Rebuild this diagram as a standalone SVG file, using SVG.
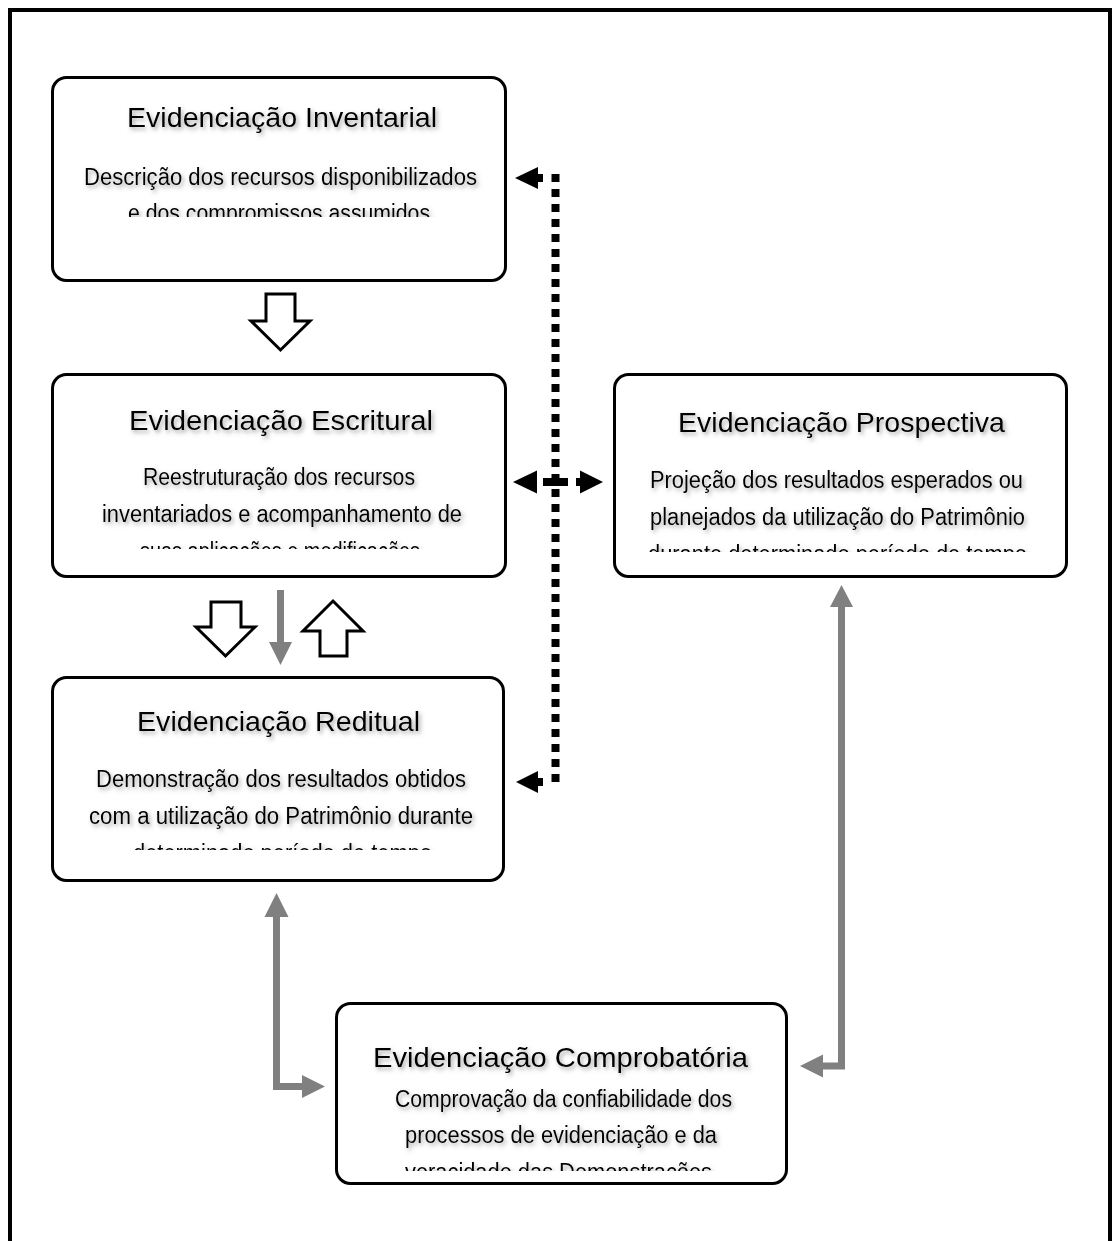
<svg xmlns="http://www.w3.org/2000/svg" width="1116" height="1241" viewBox="0 0 1116 1241">
<style>
.box{fill:#fff;stroke:#000;stroke-width:3}
.title{font-family:"Liberation Sans",Arial,sans-serif;font-size:28px;fill:#000;text-anchor:middle}
.body{font-family:"Liberation Sans",Arial,sans-serif;font-size:23.5px;fill:#000;text-anchor:middle}
.blk{fill:#fff;stroke:#000;stroke-width:3;stroke-linejoin:miter}
.gray{fill:none;stroke:#808080;stroke-width:7}
.grayh{fill:#808080}
.dot{fill:none;stroke:#000;stroke-width:8}
</style>
<defs>
<filter id="sh" x="-10%" y="-30%" width="120%" height="160%">
<feDropShadow dx="2" dy="2.5" stdDeviation="2" flood-color="#666" flood-opacity="0.6"/>
</filter>
<clipPath id="c1"><rect x="52" y="78" width="452" height="139"/></clipPath>
<clipPath id="c2"><rect x="52" y="375" width="452" height="174"/></clipPath>
<clipPath id="c3"><rect x="614" y="375" width="452" height="177"/></clipPath>
<clipPath id="c4"><rect x="52" y="678" width="452" height="172"/></clipPath>
<clipPath id="c5"><rect x="336" y="1004" width="450" height="167"/></clipPath>
</defs>
<rect width="1116" height="1241" fill="#fff"/>
<path d="M10 1241V10H1110V1241" fill="none" stroke="#000" stroke-width="4"/>

<g id="inventarial">
<rect class="box" x="52.5" y="77.5" width="453" height="203" rx="14"/>
<g clip-path="url(#c1)">
<text class="title" x="282" y="127" filter="url(#sh)" textLength="310" lengthAdjust="spacingAndGlyphs">Evidenciação Inventarial</text>
<text class="body" x="280.5" y="185" filter="url(#sh)" textLength="393" lengthAdjust="spacingAndGlyphs">Descrição dos recursos disponibilizados</text>
<text class="body" x="279" y="221" filter="url(#sh)" textLength="302" lengthAdjust="spacingAndGlyphs">e dos compromissos assumidos</text>
</g>
</g>

<g id="escritural">
<rect class="box" x="52.5" y="374.5" width="453" height="202" rx="14"/>
<g clip-path="url(#c2)">
<text class="title" x="281" y="430" filter="url(#sh)" textLength="304" lengthAdjust="spacingAndGlyphs">Evidenciação Escritural</text>
<text class="body" x="279" y="485" filter="url(#sh)" textLength="272" lengthAdjust="spacingAndGlyphs">Reestruturação dos recursos</text>
<text class="body" x="282" y="522" filter="url(#sh)" textLength="360" lengthAdjust="spacingAndGlyphs">inventariados e acompanhamento de</text>
<text class="body" x="280" y="559" filter="url(#sh)" textLength="280" lengthAdjust="spacingAndGlyphs">suas aplicações e modificações</text>
</g>
</g>

<g id="prospectiva">
<rect class="box" x="614.5" y="374.5" width="452" height="202" rx="14"/>
<g clip-path="url(#c3)">
<text class="title" x="841.5" y="432" filter="url(#sh)" textLength="327" lengthAdjust="spacingAndGlyphs">Evidenciação Prospectiva</text>
<text class="body" x="836.5" y="488" filter="url(#sh)" textLength="373" lengthAdjust="spacingAndGlyphs">Projeção dos resultados esperados ou</text>
<text class="body" x="837.5" y="525" filter="url(#sh)" textLength="375" lengthAdjust="spacingAndGlyphs">planejados da utilização do Patrimônio</text>
<text class="body" x="837.5" y="562" filter="url(#sh)" textLength="379" lengthAdjust="spacingAndGlyphs">durante determinado período de tempo</text>
</g>
</g>

<g id="reditual">
<rect class="box" x="52.5" y="677.5" width="451" height="203" rx="14"/>
<g clip-path="url(#c4)">
<text class="title" x="278.5" y="731" filter="url(#sh)" textLength="283" lengthAdjust="spacingAndGlyphs">Evidenciação Reditual</text>
<text class="body" x="281" y="787" filter="url(#sh)" textLength="370" lengthAdjust="spacingAndGlyphs">Demonstração dos resultados obtidos</text>
<text class="body" x="281" y="824" filter="url(#sh)" textLength="384" lengthAdjust="spacingAndGlyphs">com a utilização do Patrimônio durante</text>
<text class="body" x="282.5" y="861" filter="url(#sh)" textLength="299" lengthAdjust="spacingAndGlyphs">determinado período de tempo</text>
</g>
</g>

<g id="comprobatoria">
<rect class="box" x="336.5" y="1003.5" width="450" height="180" rx="14"/>
<g clip-path="url(#c5)">
<text class="title" x="560.5" y="1067" filter="url(#sh)" textLength="375" lengthAdjust="spacingAndGlyphs">Evidenciação Comprobatória</text>
<text class="body" x="563.5" y="1107" filter="url(#sh)" textLength="337" lengthAdjust="spacingAndGlyphs">Comprovação da confiabilidade dos</text>
<text class="body" x="561" y="1143" filter="url(#sh)" textLength="312" lengthAdjust="spacingAndGlyphs">processos de evidenciação e da</text>
<text class="body" x="558.5" y="1180" filter="url(#sh)" textLength="307" lengthAdjust="spacingAndGlyphs">veracidade das Demonstrações</text>
</g>
</g>

<g id="connectors">
<polygon class="blk" points="266,294 295,294 295,321 310,321 280.5,350 251,321 266,321"/>
<polygon class="blk" points="211,602 241,602 241,627 255,627 225.5,656 196,627 211,627"/>
<polygon class="blk" points="320,656 347,656 347,631 363,631 333,601 303,631 320,631"/>
<line class="gray" x1="280.5" y1="590" x2="280.5" y2="643"/>
<polygon class="grayh" points="269,642 292,642 280.5,665"/>
<line class="dot" x1="555.5" y1="174" x2="555.5" y2="787" stroke-dasharray="8 7"/>
<polygon points="515,178 538,167 538,189" fill="#000"/>
<rect x="537" y="174" width="6" height="8" fill="#000"/>
<polygon points="513,482 537,470.5 537,493.5" fill="#000"/>
<rect x="543" y="478" width="25" height="8" fill="#000"/>
<rect x="576" y="478" width="6" height="8" fill="#000"/>
<polygon points="603,482 580,470.5 580,493.5" fill="#000"/>
<polygon points="516,782 538,771 538,793" fill="#000"/>
<rect x="537" y="778" width="6" height="8" fill="#000"/>
<polyline class="gray" points="276.5,915 276.5,1086.5 304,1086.5"/>
<polygon class="grayh" points="276.5,893 264.5,917 288.5,917"/>
<polygon class="grayh" points="325,1086.5 302,1075 302,1098"/>
<polyline class="gray" points="841.5,605 841.5,1066 821,1066"/>
<polygon class="grayh" points="841.5,585 830,607 853,607"/>
<polygon class="grayh" points="800,1066 823,1054.5 823,1077.5"/>
</g>
</svg>
